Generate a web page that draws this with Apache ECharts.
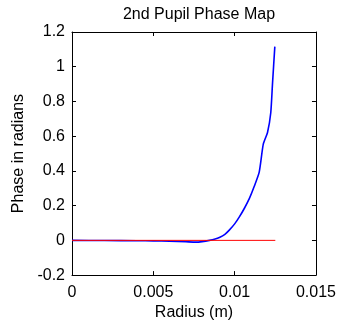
<!DOCTYPE html>
<html>
<head>
<meta charset="utf-8">
<script src="https://cdn.jsdelivr.net/npm/echarts@6/dist/echarts.min.js"></script>
<style>
  html, body { margin: 0; padding: 0; background: #fff; }
  #chart { width: 339px; height: 326px; }
</style>
</head>
<body>
<div id="chart"></div>
<script>
// radius (m) and phase (rad)
const radius = [0, 0.002, 0.004, 0.005, 0.006, 0.007, 0.0076, 0.008, 0.00845, 0.0088, 0.00906, 0.0094, 0.00967, 0.0100, 0.01029, 0.0106, 0.0109, 0.0112, 0.01151, 0.01176, 0.01202, 0.01222, 0.01233, 0.01247]
const phase = [0, -0.001, -0.002, -0.003, -0.005, -0.008, -0.010, -0.007, 0.0, 0.008, 0.017, 0.035, 0.059, 0.095, 0.135, 0.185, 0.24, 0.31, 0.393, 0.554, 0.621, 0.735, 0.907, 1.116]
const flatX = [0, 0.0125]
const flatY = [0, 0]

const xTicks = [0, 0.005, 0.01, 0.015]
const yTicks = [-0.2, 0, 0.2, 0.4, 0.6, 0.8, 1, 1.2]

const chart = echarts.init(document.getElementById('chart'))

const font = 'Liberation Sans, Arial, sans-serif'
const fs = 16

// all four sides get an axis so the box has inward ticks like the original
function frameAxis(pos) {
  return {
    show: true,
    position: pos,
    axisLine: { show: true, onZero: false, lineStyle: { color: '#000', width: 1 } },
    axisTick: { show: true, inside: true, length: 4, lineStyle: { color: '#000', width: 1 } },
    splitLine: { show: false }
  }
}

const option = {
  animation: false,
  title: {
    text: '2nd Pupil Phase Map',
    left: 194,
    textAlign: 'center',
    top: 2,
    textStyle: { fontFamily: font, fontSize: fs, fontWeight: 'normal', color: '#000' }
  },
  grid: { left: 72, right: 22, top: 32, bottom: 49 },
  xAxis: [
    Object.assign(frameAxis('bottom'), {
      type: 'value',
      min: xTicks[0],
      max: xTicks[xTicks.length - 1],
      interval: 0.005,
      name: 'Radius (m)',
      nameLocation: 'middle',
      nameGap: 29,
      nameTextStyle: { fontFamily: font, fontSize: fs, color: '#000' },
      axisLabel: {
        fontFamily: font, fontSize: fs, color: '#000', margin: 9,
        formatter: v => String(parseFloat(v.toFixed(4)))
      }
    }),
    Object.assign(frameAxis('top'), {
      type: 'value',
      min: xTicks[0],
      max: xTicks[xTicks.length - 1],
      interval: 0.005,
      axisLabel: { show: false }
    })
  ],
  yAxis: [
    Object.assign(frameAxis('left'), {
      type: 'value',
      min: yTicks[0],
      max: yTicks[yTicks.length - 1],
      interval: 0.2,
      name: 'Phase in radians',
      nameLocation: 'middle',
      nameGap: 45,
      nameTextStyle: { fontFamily: font, fontSize: fs, color: '#000' },
      axisLabel: {
        fontFamily: font, fontSize: fs, color: '#000', margin: 7,
        formatter: v => String(parseFloat(v.toFixed(2)))
      }
    }),
    Object.assign(frameAxis('right'), {
      type: 'value',
      min: yTicks[0],
      max: yTicks[yTicks.length - 1],
      interval: 0.2,
      axisLabel: { show: false }
    })
  ],
  series: [
    {
      type: 'line',
      data: radius.map((r, i) => [r, phase[i]]),
      showSymbol: false,
      smooth: 0.2,
      z: 2,
      lineStyle: { color: '#0000ff', width: 1.6 },
      itemStyle: { color: '#0000ff' }
    },
    {
      type: 'line',
      xAxisIndex: 1,
      yAxisIndex: 1,
      data: flatX.map((r, i) => [r, flatY[i]]),
      showSymbol: false,
      z: 3,
      lineStyle: { color: '#ff0000', width: 1 },
      itemStyle: { color: '#ff0000' }
    }
  ]
}

chart.setOption(option)
</script>
</body>
</html>
